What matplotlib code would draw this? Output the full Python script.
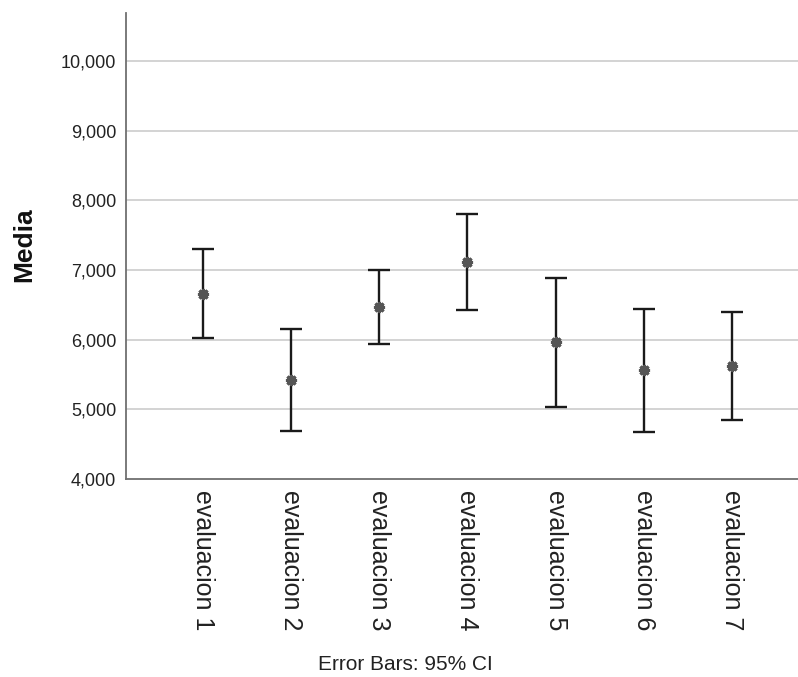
import matplotlib.pyplot as plt
from matplotlib import font_manager
from matplotlib.ticker import FuncFormatter

# datos (media e IC 95%)
evaluaciones = ['evaluacion 1', 'evaluacion 2', 'evaluacion 3', 'evaluacion 4',
                'evaluacion 5', 'evaluacion 6', 'evaluacion 7']
medias = [6661, 5414, 6462, 7114, 5967, 5561, 5624]
ic_inf = [6019, 4686, 5939, 6419, 5039, 4681, 4853]
ic_sup = [7304, 6147, 6996, 7796, 6886, 6443, 6400]

plt.rcParams['font.family'] = ['Liberation Sans', 'DejaVu Sans']

# fuente estrecha para las etiquetas del eje x si existe
try:
    font_manager.findfont('Liberation Sans Narrow', fallback_to_default=False)
    xfam, xsize = 'Liberation Sans Narrow', 22
except Exception:
    xfam, xsize = 'Liberation Sans', 18

fig = plt.figure(figsize=(7.98, 6.77), dpi=100)
ax = fig.add_axes([0.158, 0.2925, 0.842, 0.6883])

x = list(range(1, len(evaluaciones) + 1))
err_lo = [m - lo for m, lo in zip(medias, ic_inf)]
err_hi = [hi - m for m, hi in zip(medias, ic_sup)]

ax.errorbar(x, medias, yerr=[err_lo, err_hi], fmt='none', ecolor='#1a1a1a',
            elinewidth=1.7, capsize=8, capthick=1.7, zorder=3)
ax.plot(x, medias, linestyle='none', marker=(8, 2, 0), markersize=8,
        markeredgewidth=2.2, color='#555555', zorder=4)

ax.set_xlim(0.127, 7.75)
ax.set_ylim(4000, 10686)
ax.set_yticks(range(4000, 10001, 1000))
ax.yaxis.set_major_formatter(FuncFormatter(lambda v, p: f'{v:,.0f}'))

for yv in range(5000, 10001, 1000):
    ax.axhline(yv, color='#cccccc', linewidth=1.2, zorder=1)

ax.set_xticks(x)
ax.set_xticklabels(evaluaciones, rotation=270, va='top', ha='center',
                   family=xfam, fontsize=xsize, color='#222222')
ax.tick_params(axis='x', length=0, pad=8)
ax.tick_params(axis='y', length=0, pad=7, labelsize=13, labelcolor='#222222')

for s in ['top', 'right']:
    ax.spines[s].set_visible(False)
for s in ['left', 'bottom']:
    ax.spines[s].set_color('#707070')
    ax.spines[s].set_linewidth(1.3)

fig.text(24 / 798, 1 - 245 / 677, 'Media', rotation=90, ha='center', va='center',
         fontsize=19, fontweight='bold', color='#111111')
fig.text(405 / 798, 1 - 664 / 677, 'Error Bars: 95% CI', ha='center', va='center',
         fontsize=15, color='#222222')

fig.savefig('out.png', dpi=100)
